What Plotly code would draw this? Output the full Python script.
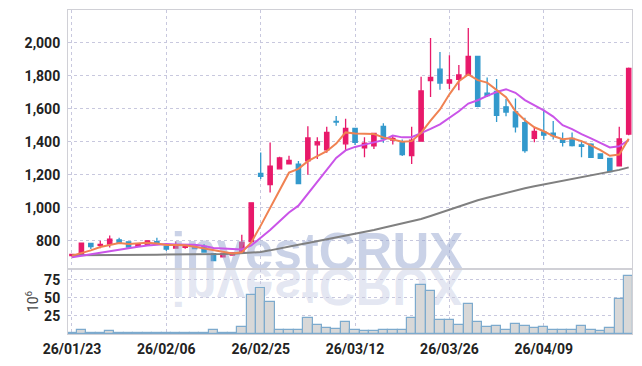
import plotly.graph_objects as go
from plotly.subplots import make_subplots

dates = ["26/01/23","26/01/26","26/01/27","26/01/28","26/01/29","26/01/30","26/02/02","26/02/03","26/02/04","26/02/05",
         "26/02/06","26/02/09","26/02/10","26/02/11","26/02/12","26/02/13","26/02/19","26/02/20","26/02/23","26/02/24",
         "26/02/25","26/02/26","26/02/27","26/03/03","26/03/04","26/03/05","26/03/06","26/03/09","26/03/10","26/03/11",
         "26/03/12","26/03/13","26/03/16","26/03/17","26/03/18","26/03/19","26/03/20","26/03/23","26/03/24","26/03/25",
         "26/03/26","26/03/27","26/03/30","26/03/31","26/04/01","26/04/02","26/04/03","26/04/06","26/04/07","26/04/08",
         "26/04/09","26/04/10","26/04/13","26/04/14","26/04/15","26/04/16","26/04/17","26/04/20","26/04/21","26/04/22"]

opens  = [710,716,784,772,780,806,794,766,778,795, 768,756,760,768,766,722,702,714,730,795,
          1208,1140,1236,1266,1264,1284,1382,1351,1524,1388, 1482,1364,1376,1494,1411,1400,1317,1404,1771,1840,
          1756,1779,1805,1918,1695,1705,1612,1582,1516,1421, 1460,1452,1412,1421,1382,1386,1326,1300,1254,1447]
highs  = [722,788,787,800,832,818,796,784,802,818, 772,796,775,772,780,726,726,730,836,1032,
          1335,1396,1310,1316,1284,1494,1428,1492,1556,1540, 1484,1427,1454,1512,1439,1414,1492,1794,2030,1944,
          1924,1866,2090,1918,1790,1780,1660,1663,1546,1490, 1596,1526,1456,1456,1408,1392,1330,1304,1492,1850]
lows   = [705,714,750,755,760,782,760,762,776,776, 738,752,752,750,730,676,700,710,725,790,
          1175,1092,1232,1262,1144,1200,1296,1333,1498,1347, 1380,1306,1356,1394,1383,1314,1265,1400,1672,1715,
          1720,1712,1800,1610,1672,1520,1555,1457,1333,1397, 1412,1414,1372,1372,1307,1304,1298,1214,1250,1440]
closes = [718,785,765,778,810,790,762,780,800,782, 750,764,770,753,732,680,722,726,790,1030,
          1190,1252,1302,1288,1146,1423,1400,1457,1520,1482, 1396,1392,1451,1418,1421,1322,1410,1708,1790,1756,
          1776,1805,1918,1615,1680,1560,1580,1490,1347,1463, 1440,1436,1396,1377,1373,1306,1300,1220,1417,1845]

ma_short = [710,724,742,762,774,786,781,784,788,783, 775,775,773,764,754,740,731,723,730,790,
            892,998,1113,1213,1236,1283,1313,1343,1389,1457, 1451,1449,1447,1427,1415,1400,1404,1455,1529,1596,
            1688,1767,1809,1774,1759,1716,1671,1585,1531,1488, 1464,1435,1416,1422,1404,1378,1350,1315,1323,1418]
ma_mid   = [700,708,716,726,736,746,756,764,771,777, 780,778,779,776,768,757,753,748,747,772,
            816,865,918,972,1013,1087,1156,1228,1302,1348, 1369,1383,1397,1410,1438,1427,1428,1452,1478,1506,
            1544,1585,1632,1652,1678,1702,1719,1697,1653,1624, 1590,1553,1501,1477,1446,1421,1393,1366,1373,1411]
ma_long  = [712,712,713,713,714,714,715,715,716,716, 717,717,718,718,719,719,720,722,725,728,
            732,742,752,764,776,787,798,808,819,830, 842,854,866,879,892,905,918,932,950,969,
            989,1010,1030,1046,1061,1076,1091,1105,1118,1130, 1141,1151,1162,1172,1184,1196,1207,1218,1230,1245]
volume   = [1.5,6,1,1,4.5,1,1,1,1,1, 1,1,1,1,1.5,5,1,1.5,10,54,
            64,44,6,6,6,22,12.5,8.5,7,16.5, 5.5,4.5,4.5,6,5,6,22,68,60,19,
            19,13,41,17,10,11,6,14,10.5,9, 10,6,6,6,11,6,4.5,9,49,80]

tick_idx = [0, 10, 20, 30, 40, 50]
tick_vals = [dates[i] for i in tick_idx]
watermark = "investCRUX"

RED = "#E8196A"
BLUE = "#3399CC"
GRID = "rgb(200,200,222)"
FRAME = "rgb(208,208,214)"
TICKFONT = dict(family="Roboto, Liberation Sans, sans-serif", size=14, color="#222", weight="bold")

fig = make_subplots(rows=2, cols=1, shared_xaxes=True, vertical_spacing=0)

# watermark (behind) and its reflection
fig.add_trace(go.Scatter(x=[dates[26]], y=[706], mode="text", text=[watermark], textposition="middle center",
                         textfont=dict(family="Liberation Sans, Arial, sans-serif", size=51, color="rgba(150,165,208,0.5)", weight="bold"),
                         hoverinfo="skip", cliponaxis=False), row=1, col=1)
fig.add_trace(go.Scatter(x=[dates[26]], y=[706], mode="text", text=[watermark], textposition="middle center",
                         textfont=dict(family="Liberation Sans, Arial, sans-serif", size=51, color="rgba(170,180,214,0.33)", weight="bold"),
                         hoverinfo="skip", cliponaxis=False), row=1, col=1)

fig.add_trace(go.Candlestick(x=dates, open=opens, high=highs, low=lows, close=closes, whiskerwidth=0,
                             increasing=dict(line=dict(color=RED, width=1.3), fillcolor=RED),
                             decreasing=dict(line=dict(color=BLUE, width=1.3), fillcolor=BLUE),
                             hoverinfo="skip"), row=1, col=1)
fig.add_trace(go.Scatter(x=dates, y=ma_long, mode="lines", line=dict(color="rgb(128,128,128)", width=2)), row=1, col=1)
fig.add_trace(go.Scatter(x=dates, y=ma_mid, mode="lines", line=dict(color="rgb(202,84,232)", width=2)), row=1, col=1)
fig.add_trace(go.Scatter(x=dates, y=ma_short, mode="lines", line=dict(color="rgb(240,130,82)", width=2)), row=1, col=1)

fig.add_trace(go.Bar(x=dates, y=volume, marker=dict(color="rgb(216,216,216)", line=dict(color="rgb(125,170,205)", width=1.2)),
                     hoverinfo="skip"), row=2, col=1)

split = 66 / 329
xr = [-0.42, 59.35]
fig.update_layout(
    width=642, height=366, margin=dict(l=68, r=10, t=9, b=28),
    paper_bgcolor="white", plot_bgcolor="white", showlegend=False,
    bargap=0, boxgap=0.35,
    xaxis=dict(type="category", categoryorder="array", categoryarray=dates, range=xr, rangeslider=dict(visible=False),
               tickmode="array", tickvals=tick_vals,
               showticklabels=False, showgrid=True, gridcolor=GRID, griddash="dot", gridwidth=1,
               showline=True, mirror=True, linecolor=FRAME, linewidth=1, ticks=""),
    xaxis2=dict(type="category", categoryorder="array", categoryarray=dates, range=xr,
                tickmode="array", tickvals=tick_vals, ticktext=tick_vals,
                showgrid=True, gridcolor=GRID, griddash="dot", gridwidth=1, tickfont=TICKFONT,
                showline=True, mirror=True, linecolor=FRAME, linewidth=1, ticks="", ticklabelstandoff=2),
    yaxis=dict(domain=[split, 1], range=[629, 2199], tickmode="array", tickvals=[800, 1000, 1200, 1400, 1600, 1800, 2000],
               tickformat=",d", showgrid=True, gridcolor=GRID, griddash="dot", gridwidth=1, tickfont=TICKFONT,
               showline=True, mirror=True, linecolor=FRAME, linewidth=1, ticks="", zeroline=False, ticklabelstandoff=4),
    yaxis2=dict(domain=[0, split], range=[0, 90], tickmode="array", tickvals=[25, 50, 75],
                showgrid=True, gridcolor=GRID, griddash="dot", gridwidth=1, tickfont=TICKFONT,
                showline=True, mirror=True, linecolor=FRAME, linewidth=1, ticks="", zeroline=False, ticklabelstandoff=4,
                title=dict(text="10<sup>6</sup>", font=dict(family="Roboto, Liberation Sans, sans-serif", size=14, color="#444"), standoff=2)),
)

post = """
(function(){
  var gd = document.getElementById('{plot_id}');
  function flip(){
    var ts = gd.querySelectorAll('.scatterlayer .textpoint text');
    var found = [];
    ts.forEach(function(t){ if (t.textContent === 'investCRUX') found.push(t); });
    if (found.length > 1) {
      var t = found[1];
      t.style.transformBox = 'fill-box';
      t.style.transformOrigin = '50% 81%';
      t.style.transform = 'scaleY(-1)';
    }
  }
  flip();
  if (gd && gd.on) { gd.on('plotly_afterplot', flip); }
})();
"""
fig.write_html("out.html", post_script=post)
